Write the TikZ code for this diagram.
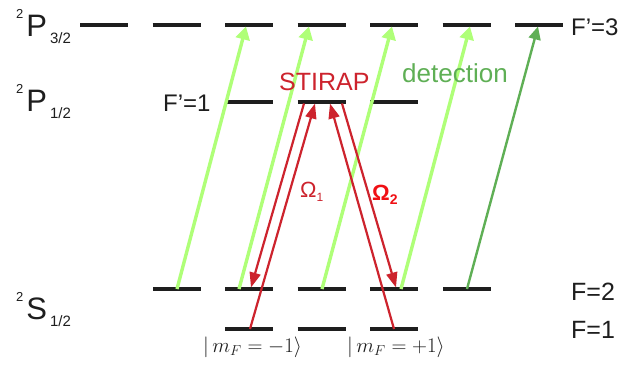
\documentclass[tikz,border=0pt]{standalone}
\usepackage{fontspec}
\setmainfont{Liberation Sans}
\usetikzlibrary{arrows.meta}
\definecolor{lvl}{RGB}{30,30,30}
\definecolor{lgreen}{RGB}{175,255,120}
\definecolor{dgreen}{RGB}{95,175,85}
\definecolor{stred}{RGB}{205,35,45}
\definecolor{brred}{RGB}{240,15,20}
\tikzset{
  level/.style={draw=lvl, line width=3.2pt},
  lgarrow/.style={draw=lgreen, line width=3.4pt, -{Triangle[length=13pt,width=14pt]}},
  dgarrow/.style={draw=dgreen, line width=2.4pt, -{Triangle[length=13pt,width=12pt]}},
  redarrow/.style={draw=stred, line width=2.2pt, -{Triangle[length=15pt,width=11pt]}},
  lab/.style={anchor=base west, inner sep=0pt, text=lvl},
}
\newcommand{\termlab}[2]{{\fontsize{13}{13}\selectfont\raisebox{18pt}{2}}\hspace{3pt}{\fontsize{31}{31}\selectfont #1}\hspace{3pt}{\fontsize{15}{15}\selectfont\raisebox{-7pt}{#2}}}
\begin{document}
\begin{tikzpicture}[x=1pt,y=-1pt]
\useasboundingbox[fill=white] (0,0) rectangle (641,370);
% levels P3/2
\foreach \x in {80,152.5,225,297.5,370,442.5,515}
  \draw[level] (\x,25) -- ++(48,0);
% levels P1/2
\foreach \x in {225,297.5,370}
  \draw[level] (\x,102) -- ++(48,0);
% levels S1/2 F=2
\foreach \x in {153,225,297.5,370,443}
  \draw[level] (\x,289) -- ++(48,0);
% levels S1/2 F=1
\foreach \x in {225,297.5,370}
  \draw[level] (\x,329) -- ++(48,0);
% coordinates
\coordinate (g1a) at (177,289); \coordinate (g1b) at (246,26.5);
\coordinate (g2a) at (239,289); \coordinate (g2b) at (309,26.5);
\coordinate (g3a) at (322,289); \coordinate (g3b) at (392,26.5);
\coordinate (g4a) at (401,289); \coordinate (g4b) at (470,26.5);
\coordinate (d1a) at (467,289); \coordinate (d1b) at (538,26.5);
\coordinate (r1a) at (250,329); \coordinate (r1b) at (315,103.5);
\coordinate (r2a) at (304,103.5); \coordinate (r2b) at (251,287.5);
\coordinate (r3a) at (394,329); \coordinate (r3b) at (330,103.5);
\coordinate (r4a) at (342,103.5); \coordinate (r4b) at (396,287.5);
% green arrows
\draw[lgarrow] (g1a) -- (g1b);
\draw[lgarrow] (g2a) -- (g2b);
\draw[lgarrow] (g3a) -- (g3b);
\draw[lgarrow] (g4a) -- (g4b);
\draw[dgarrow] (d1a) -- (d1b);
% red arrows
\draw[redarrow] (r1a) -- (r1b);
\draw[redarrow] (r2a) -- (r2b);
\draw[redarrow] (r3a) -- (r3b);
\draw[redarrow] (r4a) -- (r4b);
% labels
\node[lab] (tP32) at (16,36) {\termlab{P}{3/2}};
\node[lab] (tP12) at (16,111) {\termlab{P}{1/2}};
\node[lab] (tS12) at (16,319) {\termlab{S}{1/2}};
\node[lab, font=\fontsize{24}{24}\selectfont] (fp3) at (571,35) {F’=3};
\node[lab, font=\fontsize{24}{24}\selectfont] (fp1) at (163,111) {F’=1};
\node[lab, font=\fontsize{25}{25}\selectfont] (f2) at (571,300) {F=2};
\node[lab, font=\fontsize{25}{25}\selectfont] (f1) at (571,338) {F=1};
\node[lab, text=stred, font=\fontsize{25}{25}\selectfont] (stirap) at (279,90) {STIRAP};
\node[lab, text=dgreen, font=\fontsize{26}{26}\selectfont] (det) at (402,82) {detection};
\node[lab, text=stred, font=\fontsize{22}{22}\selectfont] (om1) at (300,197) {Ω\raisebox{-4pt}{\fontsize{12}{12}\selectfont 1}};
\node[lab, text=brred, font=\fontsize{22}{22}\selectfont\bfseries] (om2) at (372,200) {Ω\raisebox{-4pt}{\fontsize{14}{14}\selectfont 2}};
\node[lab, font=\fontsize{20}{20}\selectfont] (mm) at (203,352) {$\vert\, m_F=-1\rangle$};
\node[lab, font=\fontsize{20}{20}\selectfont] (mp) at (347,352) {$\vert\, m_F=+1\rangle$};
\end{tikzpicture}
\end{document}
